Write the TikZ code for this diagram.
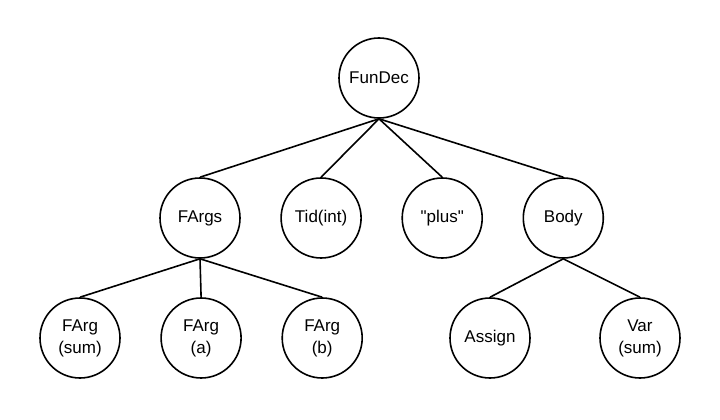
\documentclass[tikz,border=0pt]{standalone}
\usepackage{fontspec}
\newfontfamily\treefont{Liberation Sans}
\usetikzlibrary{positioning}

\begin{document}
\begin{tikzpicture}[
  x=1pt, y=-1pt,
  node distance=39.5pt,
  tnode/.style={draw, circle, line width=1.6pt, minimum size=80pt,
                inner sep=0pt, align=center,
                font=\treefont\fontsize{17}{22}\selectfont},
  edge/.style={line width=1.6pt}
]
  \useasboundingbox (0,0) rectangle (720,420);

  \node[tnode] (FunDec) at (379,78) {FunDec};

  \node[tnode] (FArgs) at (200,218) {FArgs};
  \node[tnode, right=of FArgs] (Tid)  {Tid(int)};
  \node[tnode, right=of Tid]   (Plus) {"plus"};
  \node[tnode, right=of Plus]  (Body) {Body};

  \node[tnode] (FArgSum) at (80,338) {FArg\\(sum)};
  \node[tnode, right=of FArgSum] (FArgA) {FArg\\(a)};
  \node[tnode, right=of FArgA]   (FArgB) {FArg\\(b)};

  \node[tnode] (Assign) at (490,338) {Assign};
  \node[tnode] (VarSum) at (640,338) {Var\\(sum)};

  \draw[edge] (FunDec.south) -- (FArgs.north);
  \draw[edge] (FunDec.south) -- (Tid.north);
  \draw[edge] (FunDec.south) -- (Plus.north);
  \draw[edge] (FunDec.south) -- (Body.north);
  \draw[edge] (FArgs.south) -- (FArgSum.north);
  \draw[edge] (FArgs.south) -- (FArgA.north);
  \draw[edge] (FArgs.south) -- (FArgB.north);
  \draw[edge] (Body.south) -- (Assign.north);
  \draw[edge] (Body.south) -- (VarSum.north);
\end{tikzpicture}
\end{document}
